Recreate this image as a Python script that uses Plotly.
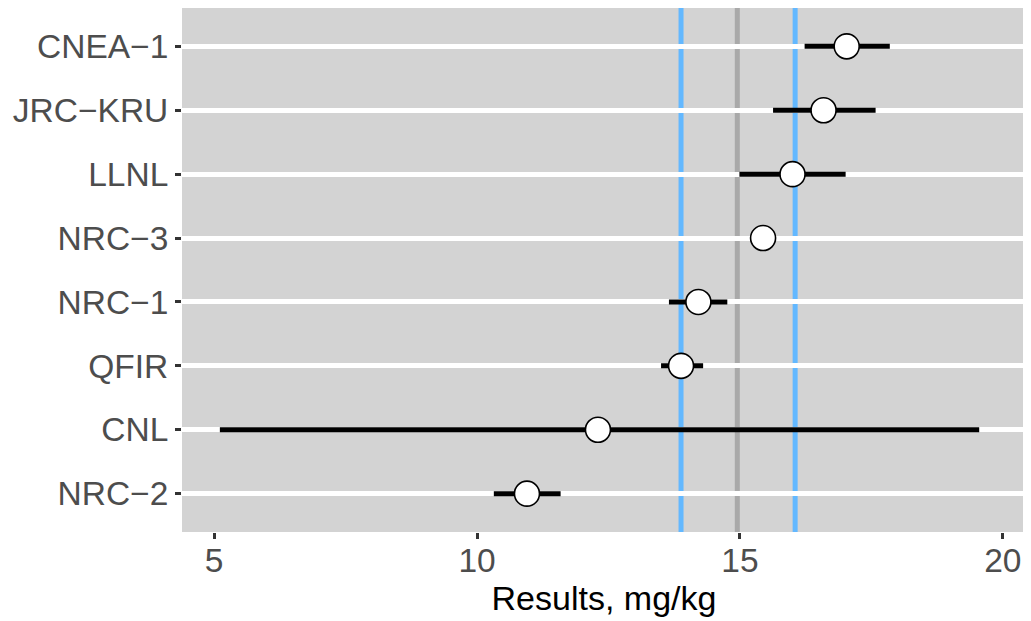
import plotly.graph_objects as go

labs = ["CNEA−1", "JRC−KRU", "LLNL", "NRC−3", "NRC−1", "QFIR", "CNL", "NRC−2"]
results = [17.03, 16.59, 16.00, 15.44, 14.21, 13.88, 12.30, 10.95]
lower = [16.23, 15.63, 14.99, 15.44, 13.65, 13.50, 5.11, 10.32]
upper = [17.85, 17.58, 17.01, 15.44, 14.76, 14.30, 19.55, 11.59]
ref_value = [14.95]
ref_limits = [13.88, 16.05]

err_plus = [u - r for u, r in zip(upper, results)]
err_minus = [r - l for r, l in zip(results, lower)]

fig = go.Figure()
fig.add_trace(go.Scatter(
    x=results, y=labs, mode="markers",
    marker=dict(size=25, color="white", line=dict(color="black", width=1.6)),
    error_x=dict(type="data", symmetric=False, array=err_plus, arrayminus=err_minus,
                 thickness=5, width=0, color="black"),
    showlegend=False,
))

for v in ref_value:
    fig.add_shape(type="line", x0=v, x1=v, xref="x", y0=0, y1=1, yref="paper",
                  line=dict(color="#A9A9A9", width=5), layer="between")
for v in ref_limits:
    fig.add_shape(type="line", x0=v, x1=v, xref="x", y0=0, y1=1, yref="paper",
                  line=dict(color="#63B8FF", width=5), layer="between")

fig.update_layout(
    width=1023, height=613,
    margin=dict(l=174, r=5, t=0, b=89),
    paper_bgcolor="white", plot_bgcolor="#D3D3D3",
    font=dict(family="Liberation Sans, Arial, sans-serif", color="#4D4D4D"),
    xaxis=dict(
        range=[4.39, 20.44], tickvals=[5, 10, 15, 20], ticktext=["5", "10", "15", "20"],
        showgrid=False, zeroline=False, ticks="outside", ticklen=6, tickwidth=2.5,
        tickcolor="#333333", tickfont=dict(size=33.5, color="#4D4D4D"),
        ticklabelstandoff=-7,
        title=dict(text="Results, mg/kg", font=dict(size=34, color="black"), standoff=4),
    ),
    yaxis=dict(
        type="category", categoryorder="array", categoryarray=labs[::-1],
        range=[-0.6, 7.6], showgrid=True, gridcolor="white", gridwidth=5,
        zeroline=False, ticks="outside", ticklen=6, tickwidth=2.5, tickcolor="#333333",
        tickfont=dict(size=33.5, color="#4D4D4D"),
    ),
)

fig.write_html("out.html")
